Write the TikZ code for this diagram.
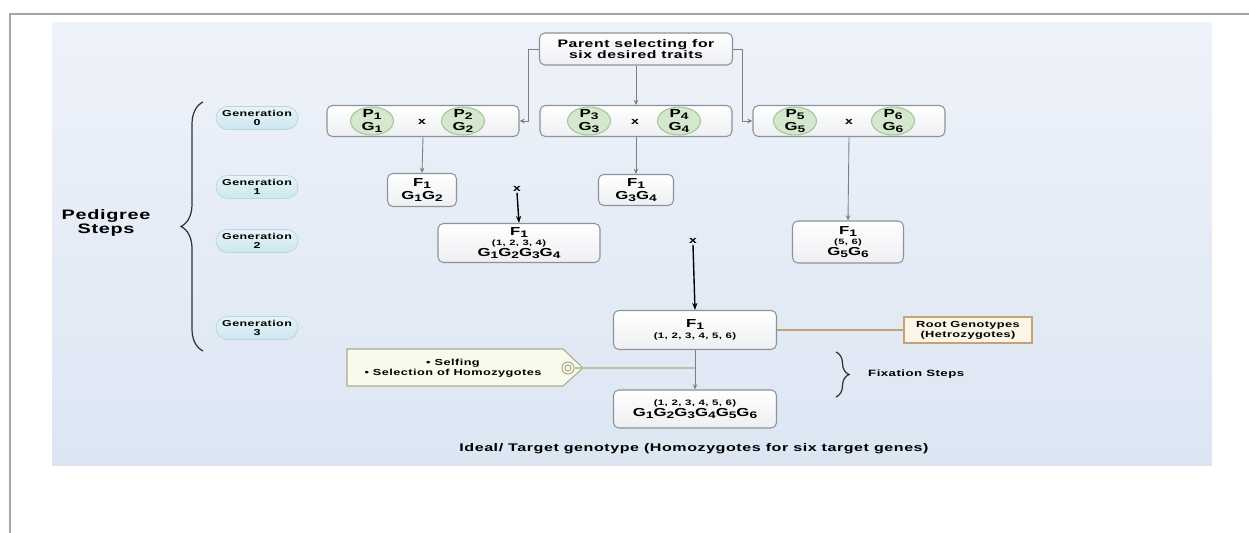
\documentclass[tikz,border=0pt]{standalone}
\usepackage{fontspec}
\usepackage{graphicx}
\setmainfont{Liberation Sans}[FakeStretch=1.45,LetterSpace=5]
\usetikzlibrary{arrows.meta,calc,shapes.geometric,decorations.pathreplacing}
\definecolor{bgtop}{HTML}{EEF2FA}
\definecolor{bgbot}{HTML}{DCE6F3}
\definecolor{boxline}{HTML}{8E9398}
\definecolor{boxbot}{HTML}{EDEFF2}
\definecolor{pfill}{HTML}{D4E8CE}
\definecolor{pline}{HTML}{A4C49C}
\definecolor{gentop}{HTML}{E6F4F8}
\definecolor{genbot}{HTML}{CCE6EF}
\definecolor{genline}{HTML}{B8D6E2}
\definecolor{rootfill}{HTML}{FBF5E6}
\definecolor{rootline}{HTML}{C4A274}
\definecolor{tagfill}{HTML}{F9F9EC}
\definecolor{tagline}{HTML}{A9AA8E}
\definecolor{selfline}{HTML}{B7C3A6}
\definecolor{frameline}{HTML}{A6A6A6}
\definecolor{conn}{HTML}{7F7F7F}
\newcommand{\idx}[2]{#1\raisebox{-0.3ex}{\scalebox{0.82}{#2}}}

\tikzset{
  box/.style={draw=boxline,line width=0.6pt,rounded corners=3pt,top color=white,bottom color=boxbot,
    align=center,inner sep=1pt,font=\fontsize{6.6}{7.1}\selectfont\bfseries},
  cross/.style={box,minimum width=3.84cm,minimum height=0.62cm},
  pcirc/.style={ellipse,draw=pline,fill=pfill,line width=0.6pt,minimum width=0.86cm,minimum height=0.56cm,
    inner sep=-2.5pt,align=center,font=\fontsize{6.6}{7.4}\selectfont\bfseries},
  gen/.style={draw=genline,top color=gentop,bottom color=genbot,rounded corners=0.23cm,minimum width=1.64cm,
    minimum height=0.46cm,inner sep=0pt,align=center,font=\fontsize{4.9}{5.4}\selectfont\bfseries},
  xmark/.style={inner sep=0.5pt,font=\fontsize{5.5}{5.5}\selectfont\bfseries},
  arr/.style={draw=conn,line width=0.5pt,-{Stealth[length=3pt,width=2.6pt]}},
  barr/.style={draw=black,line width=0.8pt,-{Stealth[length=4pt,width=3pt]}},
  bracebar/.style={decorate,line width=0.7pt,draw=black!80},
}

\begin{document}
\begin{tikzpicture}[x=0.02cm,y=-0.02cm]
      \useasboundingbox (0,0) rectangle (1249,533);
      \shade[top color=bgtop,bottom color=bgbot] (52,23) rectangle (1212,466);
      \draw[frameline,line width=1pt] (10,533) -- (10,14) -- (1249,14);

      \node[box,minimum width=3.86cm,minimum height=0.64cm,font=\fontsize{6.2}{6.7}\selectfont\bfseries]
        (top) at (636,49) {Parent selecting for\\six desired traits};

      % generation 0
      \node[cross] (cross1) at (423,121) {};
      \node[cross] (cross2) at (636,121) {};
      \node[cross] (cross3) at (849,121) {};
      \node[pcirc] (p1) at (372,121) {\idx{P}{1}\\\idx{G}{1}};
      \node[xmark] (x1) at (422,122) {x};
      \node[pcirc] (p2) at (463,121) {\idx{P}{2}\\\idx{G}{2}};
      \node[pcirc] (p3) at (589,121) {\idx{P}{3}\\\idx{G}{3}};
      \node[xmark] (x2) at (635,122) {x};
      \node[pcirc] (p4) at (679,121) {\idx{P}{4}\\\idx{G}{4}};
      \node[pcirc] (p5) at (795,121) {\idx{P}{5}\\\idx{G}{5}};
      \node[xmark] (x3) at (849,122) {x};
      \node[pcirc] (p6) at (893,121) {\idx{P}{6}\\\idx{G}{6}};

      % generations 1-3
      \node[box,minimum width=1.38cm,minimum height=0.66cm] (fa) at (422,190) {\idx{F}{1}\\\idx{G}{1}\idx{G}{2}};
      \node[box,minimum width=1.5cm,minimum height=0.62cm] (fb) at (636,190) {\idx{F}{1}\\\idx{G}{3}\idx{G}{4}};
      \node[xmark] (xa) at (517,189) {x};
      \node[box,minimum width=3.24cm,minimum height=0.78cm] (fab) at (519,243)
        {\idx{F}{1}\\[-1.5pt]{\fontsize{4.4}{5}\selectfont(1, 2, 3, 4)}\\[-1pt]\idx{G}{1}\idx{G}{2}\idx{G}{3}\idx{G}{4}};
      \node[box,minimum width=2.22cm,minimum height=0.84cm] (fc) at (848,242)
        {\idx{F}{1}\\[-1.5pt]{\fontsize{4.4}{5}\selectfont(5, 6)}\\[-1pt]\idx{G}{5}\idx{G}{6}};
      \node[xmark] (xb) at (693,241) {x};
      \node[box,minimum width=3.26cm,minimum height=0.78cm] (fall) at (695,330)
        {\idx{F}{1}\\[-1pt]{\fontsize{4.5}{5}\selectfont(1, 2, 3, 4, 5, 6)}};
      \node[box,minimum width=3.26cm,minimum height=0.76cm] (final) at (695,409)
        {{\fontsize{4.5}{5}\selectfont(1, 2, 3, 4, 5, 6)}\\[-0.5pt]\idx{G}{1}\idx{G}{2}\idx{G}{3}\idx{G}{4}\idx{G}{5}\idx{G}{6}};
      \node[draw=rootline,fill=rootfill,line width=0.7pt,minimum width=2.56cm,minimum height=0.52cm,inner sep=1pt,
        align=center,font=\fontsize{5}{5.8}\selectfont\bfseries] (root) at (968,330) {Root Genotypes\\(Hetrozygotes)};

      % selfing tag
      \coordinate (t1) at (347,349);
      \coordinate (t2) at (563,349);
      \coordinate (t3) at (583,368);
      \coordinate (t4) at (563,386);
      \coordinate (t5) at (347,386);
      \draw[tagline,fill=tagfill,line width=0.6pt] (t1) -- (t2) -- (t3) -- (t4) -- (t5) -- cycle;
      \node[align=center,font=\fontsize{5}{5.8}\selectfont\bfseries] (tag) at (453,368)
        {\textbullet\ Selfing\\\textbullet\ Selection of Homozygotes};
      \node[circle,draw=tagline,line width=0.6pt,minimum size=0.24cm,inner sep=0pt] (ring) at (568,368) {};
      \draw[tagline,line width=0.6pt] (ring) circle (0.06cm);

      % labels
      \node[gen] (g0) at (257,118) {Generation\\0};
      \node[gen] (g1) at (257,187) {Generation\\1};
      \node[gen] (g2) at (257,241) {Generation\\2};
      \node[gen] (g3) at (257,328) {Generation\\3};
      \node[align=center,font=\fontsize{7.8}{8.4}\selectfont\bfseries] (ped) at (106,223) {Pedigree\\Steps};
      \node[anchor=west,font=\fontsize{5.2}{5.2}\selectfont\bfseries] (fix) at (862,374) {Fixation Steps};
      \node[font=\fontsize{6.3}{6.3}\selectfont\bfseries] (ideal) at (694,449)
        {Ideal/ Target genotype (Homozygotes for six target genes)};
      \coordinate (pb1) at (203,351);
      \coordinate (pb2) at (203,102);
      \coordinate (fb1) at (836,352);
      \coordinate (fb2) at (836,397);
      \draw[bracebar,decoration={brace,amplitude=0.44cm}] (pb1) -- (pb2);
      \draw[bracebar,decoration={brace,amplitude=0.26cm}] (fb1) -- (fb2);

      % connectors
      \draw[arr] (top.west) -| ($(cross1.east)+(9,0)$) -- (cross1.east);
      \draw[arr] (top.east) -| ($(cross3.west)+(-10,0)$) -- (cross3.west);
      \draw[arr] (top.south) -- (cross2.north);
      \draw[arr] (cross1.south) -- (fa.north);
      \draw[arr] (cross2.south) -- (fb.north);
      \draw[arr] (cross3.south) -- (fc.north);
      \draw[barr] (xa.south) -- (fab.north);
      \draw[barr] (xb.south) -- (fall.north);
      \draw[arr] (fall.south) -- (final.north);
      \draw[rootline,line width=0.6pt] (fall.east) -- (root.west);
      \draw[selfline,line width=0.6pt] (ring.east) -- (ring -| fall.south);
    \end{tikzpicture}
\end{document}
